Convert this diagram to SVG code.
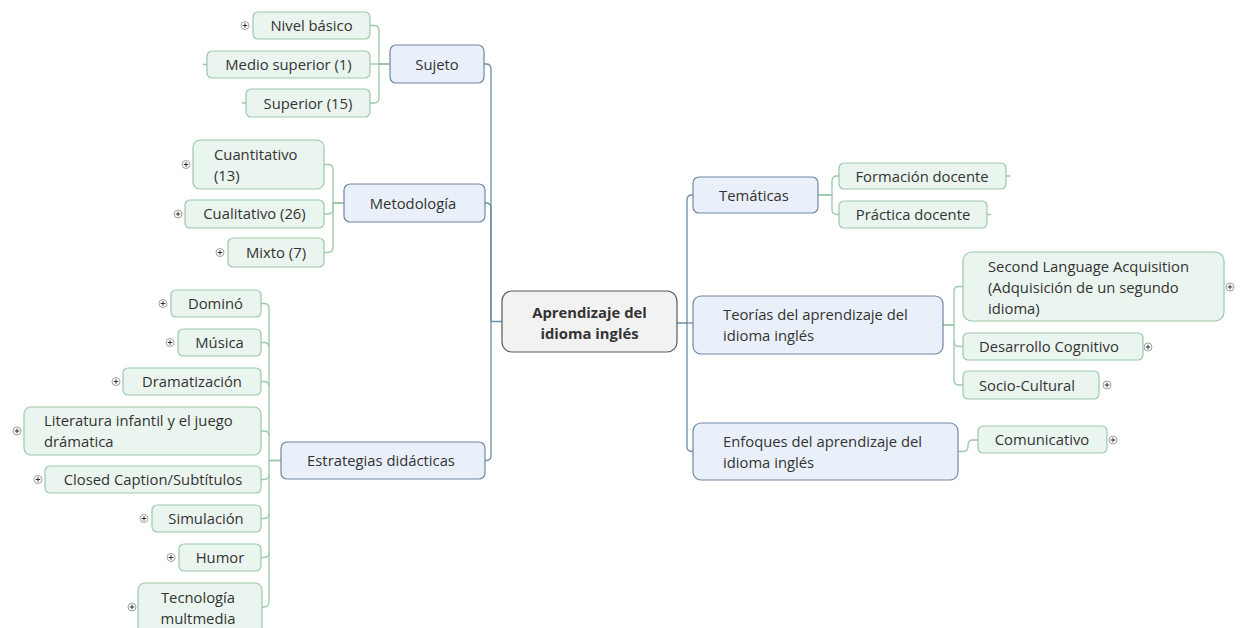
<svg xmlns="http://www.w3.org/2000/svg" xmlns:xlink="http://www.w3.org/1999/xlink" width="1243" height="628" viewBox="0 0 1243 628">
<style>
  text { font-family: "Open Sans", "Noto Sans", "DejaVu Sans", sans-serif; font-size: 14.8px; fill: #333333; }
  .c { text-anchor: middle; }
  .b { font-weight: bold; font-size: 14.8px; }
  .center { fill: #f2f2f2; stroke: #5a5a5a; stroke-width: 1.2; }
  .topic { fill: #e9f0f9; stroke: #6f88a3; stroke-width: 1.2; }
  .sub { fill: #ebf5ef; stroke: #9cc9aa; stroke-width: 1.2; }
  .trunk { fill: none; stroke: #6a8ea8; stroke-width: 1.3; }
  .branch { fill: none; stroke: #9cc9aa; stroke-width: 1.3; }
</style>
<defs>
  <g id="plus">
    <circle cx="0" cy="0" r="4" fill="#ffffff" stroke="#a0a0a0" stroke-width="1"/>
    <path d="M -2.3 0 H 2.3 M 0 -2.3 V 2.3" stroke="#333333" stroke-width="1"/>
  </g>
</defs>
<rect width="1243" height="628" fill="#ffffff"/>

<g id="connectors">
  <!-- trunk left -->
  <path class="trunk" d="M 502 321.5 H 491 V 69 Q 491 64 486 64 H 484"/>
  <path class="trunk" d="M 491 321.5 V 208 Q 491 203 486 203 H 485"/>
  <path class="trunk" d="M 491 321.5 V 455.5 Q 491 460.5 486 460.5 H 485"/>
  <!-- trunk right -->
  <path class="trunk" d="M 677 323 H 687 V 200 Q 687 195 692 195 H 693"/>
  <path class="trunk" d="M 687 323 H 693"/>
  <path class="trunk" d="M 687 323 V 446.5 Q 687 451.5 692 451.5 H 693"/>
  <!-- Sujeto -->
  <path class="branch" d="M 390 64 H 379 V 30.5 Q 379 25.5 374 25.5 H 370"/>
  <path class="branch" d="M 390 64 H 370"/>
  <path class="branch" d="M 390 64 H 379 V 98 Q 379 103 374 103 H 370"/>
  <path class="branch" d="M 203 64.5 H 207 M 242 103 H 246"/>
  <!-- Metodologia -->
  <path class="branch" d="M 344 203 H 333 V 169.5 Q 333 164.5 328 164.5 H 324"/>
  <path class="branch" d="M 344 203 H 333 V 209 Q 333 214 328 214 H 324"/>
  <path class="branch" d="M 344 203 H 333 V 247.5 Q 333 252.5 328 252.5 H 324"/>
  <!-- Estrategias -->
  <path class="branch" d="M 281 460.5 H 269 V 308.5 Q 269 303.5 264 303.5 H 261"/>
  <path class="branch" d="M 269 347.5 Q 269 342.5 264 342.5 H 261"/>
  <path class="branch" d="M 269 386.5 Q 269 381.5 264 381.5 H 261"/>
  <path class="branch" d="M 269 436 Q 269 431 264 431 H 261"/>
  <path class="branch" d="M 281 460.5 H 269 V 602 Q 269 607 264 607 H 262"/>
  <path class="branch" d="M 269 474.5 Q 269 479.5 264 479.5 H 261"/>
  <path class="branch" d="M 269 513.5 Q 269 518.5 264 518.5 H 261"/>
  <path class="branch" d="M 269 552.5 Q 269 557.5 264 557.5 H 261"/>
  <!-- Tematicas -->
  <path class="branch" d="M 818 195 H 832 V 181 Q 832 176 837 176 H 839"/>
  <path class="branch" d="M 818 195 H 832 V 209.5 Q 832 214.5 837 214.5 H 839"/>
  <path class="branch" d="M 1006 176 H 1010 M 987 214.5 H 991"/>
  <!-- Teorias -->
  <path class="branch" d="M 943 325 H 954 V 291.5 Q 954 286.5 959 286.5 H 963"/>
  <path class="branch" d="M 943 325 H 954 V 341.5 Q 954 346.5 959 346.5 H 963"/>
  <path class="branch" d="M 954 341.5 V 380 Q 954 385 959 385 H 963"/>
  <!-- Enfoques -->
  <path class="branch" d="M 958 451.5 H 963 Q 968 451.5 968 446.5 V 445 Q 968 440 973 440 H 978"/>
</g>

<g id="node-central">
  <rect class="center" x="502" y="291" width="175" height="61" rx="10"/>
  <text class="c b" x="589.5" y="318">Aprendizaje del</text>
  <text class="c b" x="589.5" y="339">idioma inglés</text>
</g>

<g id="node-sujeto">
  <rect class="topic" x="390" y="45" width="94" height="38" rx="6"/>
  <text class="c" x="437" y="69.5">Sujeto</text>
</g>
<g id="node-nivel-basico">
  <rect class="sub" x="253" y="12" width="117" height="27" rx="5"/>
  <text class="c" x="311.5" y="31">Nivel básico</text>
  <use xlink:href="#plus" x="245" y="25.5"/>
</g>
<g id="node-medio-superior">
  <rect class="sub" x="207" y="51" width="163" height="27" rx="5"/>
  <text class="c" x="288.5" y="70">Medio superior (1)</text>
</g>
<g id="node-superior">
  <rect class="sub" x="246" y="89" width="124" height="28" rx="5"/>
  <text class="c" x="308" y="108.5">Superior (15)</text>
</g>

<g id="node-metodologia">
  <rect class="topic" x="344" y="184" width="141" height="38" rx="6"/>
  <text class="c" x="413" y="209">Metodología</text>
</g>
<g id="node-cuantitativo">
  <rect class="sub" x="193" y="140" width="131" height="49" rx="7"/>
  <text x="214" y="160">Cuantitativo</text>
  <text x="214" y="180.5">(13)</text>
  <use xlink:href="#plus" x="186" y="164.5"/>
</g>
<g id="node-cualitativo">
  <rect class="sub" x="185" y="200" width="139" height="28" rx="5"/>
  <text class="c" x="254.5" y="219">Cualitativo (26)</text>
  <use xlink:href="#plus" x="178" y="214"/>
</g>
<g id="node-mixto">
  <rect class="sub" x="228" y="238" width="96" height="29" rx="5"/>
  <text class="c" x="276" y="258">Mixto (7)</text>
  <use xlink:href="#plus" x="220" y="252.5"/>
</g>

<g id="node-estrategias">
  <rect class="topic" x="281" y="442" width="204" height="37" rx="6"/>
  <text class="c" x="381" y="466">Estrategias didácticas</text>
</g>
<g id="node-domino">
  <rect class="sub" x="171" y="290" width="90" height="27" rx="5"/>
  <text class="c" x="215.5" y="309">Dominó</text>
  <use xlink:href="#plus" x="163" y="303.5"/>
</g>
<g id="node-musica">
  <rect class="sub" x="178" y="329" width="83" height="27" rx="5"/>
  <text class="c" x="219.5" y="348">Música</text>
  <use xlink:href="#plus" x="170" y="342.5"/>
</g>
<g id="node-dramatizacion">
  <rect class="sub" x="123" y="368" width="138" height="27" rx="5"/>
  <text class="c" x="192" y="387">Dramatización</text>
  <use xlink:href="#plus" x="116" y="381.5"/>
</g>
<g id="node-literatura">
  <rect class="sub" x="24" y="407" width="237" height="48" rx="7"/>
  <text x="44" y="426">Literatura infantil y el juego</text>
  <text x="44" y="447">drámatica</text>
  <use xlink:href="#plus" x="17" y="431"/>
</g>
<g id="node-closed-caption">
  <rect class="sub" x="45" y="466" width="216" height="27" rx="5"/>
  <text class="c" x="153" y="485">Closed Caption/Subtítulos</text>
  <use xlink:href="#plus" x="38" y="479.5"/>
</g>
<g id="node-simulacion">
  <rect class="sub" x="152" y="505" width="109" height="27" rx="5"/>
  <text class="c" x="206" y="524">Simulación</text>
  <use xlink:href="#plus" x="144" y="518.5"/>
</g>
<g id="node-humor">
  <rect class="sub" x="179" y="544" width="82" height="27" rx="5"/>
  <text class="c" x="220" y="563">Humor</text>
  <use xlink:href="#plus" x="171" y="557.5"/>
</g>
<g id="node-tecnologia">
  <rect class="sub" x="138" y="583" width="124" height="52" rx="7"/>
  <text class="c" x="198" y="602.5">Tecnología</text>
  <text class="c" x="198" y="623.5">multmedia</text>
  <use xlink:href="#plus" x="132" y="607"/>
</g>

<g id="node-tematicas">
  <rect class="topic" x="693" y="177" width="125" height="36" rx="6"/>
  <text class="c" x="754" y="201">Temáticas</text>
</g>
<g id="node-formacion-docente">
  <rect class="sub" x="839" y="163" width="167" height="26" rx="5"/>
  <text class="c" x="922" y="181.5">Formación docente</text>
</g>
<g id="node-practica-docente">
  <rect class="sub" x="839" y="201" width="148" height="27" rx="5"/>
  <text class="c" x="913" y="220">Práctica docente</text>
</g>

<g id="node-teorias">
  <rect class="topic" x="693" y="296" width="250" height="58" rx="8"/>
  <text x="723" y="319.5">Teorías del aprendizaje del</text>
  <text x="723" y="340.5">idioma inglés</text>
</g>
<g id="node-sla">
  <rect class="sub" x="963" y="252" width="261" height="69" rx="9"/>
  <text x="988" y="272">Second Language Acquisition</text>
  <text x="988" y="293">(Adquisición de un segundo</text>
  <text x="988" y="313.5">idioma)</text>
  <use xlink:href="#plus" x="1230" y="287"/>
</g>
<g id="node-desarrollo-cognitivo">
  <rect class="sub" x="963" y="333" width="180" height="27" rx="5"/>
  <text x="979" y="352">Desarrollo Cognitivo</text>
  <use xlink:href="#plus" x="1148" y="347"/>
</g>
<g id="node-socio-cultural">
  <rect class="sub" x="963" y="371" width="136" height="28" rx="5"/>
  <text x="979" y="390.5">Socio-Cultural</text>
  <use xlink:href="#plus" x="1107" y="385"/>
</g>

<g id="node-enfoques">
  <rect class="topic" x="693" y="423" width="265" height="57" rx="8"/>
  <text x="723" y="447">Enfoques del aprendizaje del</text>
  <text x="723" y="468">idioma inglés</text>
</g>
<g id="node-comunicativo">
  <rect class="sub" x="978" y="426" width="129" height="27" rx="5"/>
  <text class="c" x="1042" y="445">Comunicativo</text>
  <use xlink:href="#plus" x="1113" y="440"/>
</g>
</svg>
